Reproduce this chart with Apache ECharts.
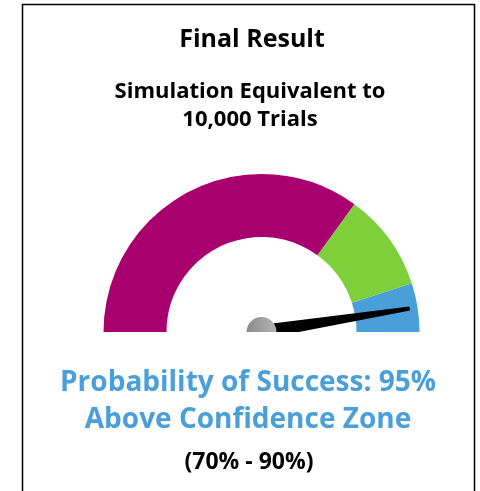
<!DOCTYPE html>
<html>
<head>
<meta charset="utf-8">
<script src="https://cdn.jsdelivr.net/npm/echarts@6/dist/echarts.min.js"></script>
<style>
  html, body { margin: 0; padding: 0; background: #fff; }
  #chart { width: 480px; height: 491px; }
</style>
</head>
<body>
<div id="chart"></div>
<script>
// values
const headline = 'Final Result';
const subtitleLines = ['Simulation Equivalent to', '10,000 Trials'];
const bandEnds = [0.7, 0.9, 1];
const bandColors = ['#A8006F', '#7ED03B', '#4A9FD8'];
const probability = 95;
const resultLines = ['Probability of Success: 95%', 'Above Confidence Zone'];
const zoneLabel = '(70% - 90%)';

const FONT = '"Open Sans", "Noto Sans", sans-serif';
const chart = echarts.init(document.getElementById('chart'));

const txt = (text, x, y, size, color) => ({
  type: 'text',
  x, y,
  z: 110,
  style: {
    text,
    fill: color,
    font: `bold ${size}px ${FONT}`,
    align: 'center',
    verticalAlign: 'middle'
  }
});

const option = {
  backgroundColor: '#fff',
  animation: false,
  series: [
    {
      type: 'gauge',
      center: [261.5, 332],
      radius: 158,
      startAngle: 180,
      endAngle: 0,
      min: 0,
      max: 100,
      axisLine: {
        lineStyle: {
          width: 63,
          color: bandEnds.map((e, i) => [e, bandColors[i]])
        }
      },
      axisTick: { show: false },
      splitLine: { show: false },
      axisLabel: { show: false },
      title: { show: false },
      detail: { show: false },
      pointer: {
        icon: 'path://M-2 0 L2 0 L7 100 L-7 100 Z',
        length: 150,
        width: 14,
        itemStyle: { color: '#000' }
      },
      anchor: {
        show: true,
        showAbove: true,
        size: 30,
        itemStyle: {
          color: new echarts.graphic.LinearGradient(0, 0, 1, 0, [
            { offset: 0, color: '#8a8a8a' },
            { offset: 1, color: '#b4b4b4' }
          ])
        }
      },
      data: [{ value: probability }]
    }
  ],
  graphic: [
    // hides lower half of the hub and needle base
    {
      type: 'rect',
      z: 100,
      shape: { x: 90, y: 332, width: 350, height: 22 },
      style: { fill: '#fff' }
    },
    {
      type: 'rect',
      z: 100,
      shape: { x: 22.5, y: 4.5, width: 452, height: 520 },
      style: { fill: null, stroke: '#000', lineWidth: 1.5 }
    },
    txt(headline, 252, 40, 25, '#000'),
    txt(subtitleLines[0], 250, 92, 22, '#000'),
    txt(subtitleLines[1], 250, 120, 22, '#000'),
    txt(resultLines[0], 248, 383, 28, '#4A9FD8'),
    txt(resultLines[1], 248, 420, 28, '#4A9FD8'),
    txt(zoneLabel, 249, 462, 23, '#000')
  ]
};

chart.setOption(option);
window.addEventListener('resize', () => chart.resize());
</script>
</body>
</html>
